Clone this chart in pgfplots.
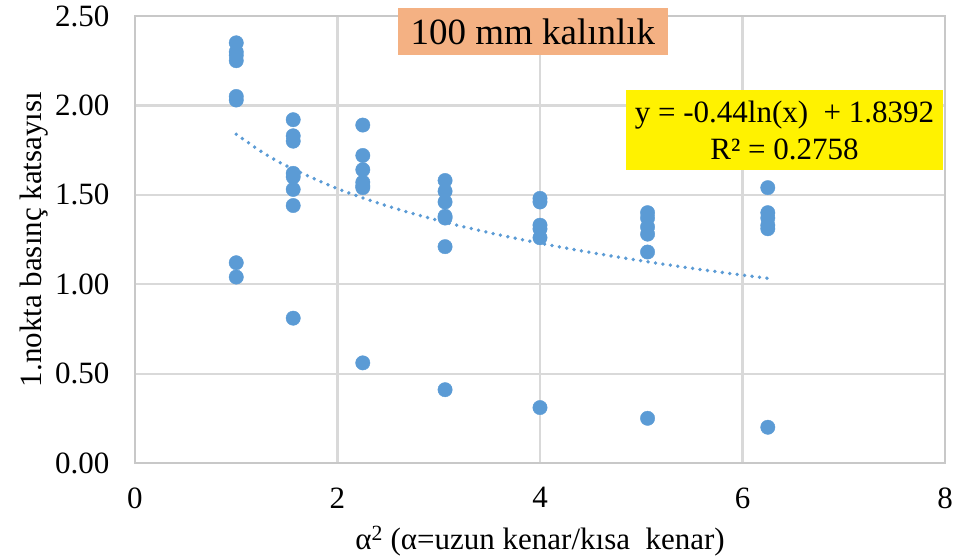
\documentclass[border=0pt]{standalone}
\usepackage{pgfplots}
\pgfplotsset{compat=1.18}
\usepackage{fontspec}
\setmainfont{Liberation Serif}
\definecolor{ptblue}{HTML}{5B9BD5}
\definecolor{gridgray}{HTML}{D9D9D9}
\definecolor{framegray}{HTML}{C8C8C8}
\definecolor{titleorange}{HTML}{F4B183}
\begin{document}
\begin{tikzpicture}
\begin{axis}[
  scale only axis,
  width=810pt, height=447pt,
  xmin=0, xmax=8, ymin=0, ymax=2.5,
  xtick={0,2,4,6,8},
  ytick={0,0.5,1,1.5,2,2.5},
  yticklabel style={xshift=-22pt, /pgf/number format/.cd, fixed, fixed zerofill, precision=2},
  /pgf/number format/assume math mode=true,
  tick label style={font=\fontsize{31}{37}\selectfont},
  major tick length=0pt,
  xticklabel style={yshift=-21pt},
  grid=major,
  major grid style={draw=gridgray, line width=2.2pt},
  axis line style={draw=framegray, line width=2.2pt},
  xlabel={α\textsuperscript{2} (α=uzun kenar/kısa\ \ kenar)},
  ylabel={1.nokta basınç katsayısı},
  label style={font=\fontsize{31}{37}\selectfont},
  xlabel style={yshift=-11pt},
  ylabel style={yshift=0pt},
  clip=false,
]
\addplot[only marks, mark=*, mark size=7.2pt, mark options={draw=ptblue, fill=ptblue}] coordinates {
 (1,2.35) (1,2.30) (1,2.28) (1,2.25) (1,2.05) (1,2.03) (1,1.12) (1,1.04)
 (1.5625,1.92) (1.5625,1.83) (1.5625,1.80) (1.5625,1.62) (1.5625,1.60) (1.5625,1.53) (1.5625,1.44) (1.5625,0.81)
 (2.25,1.89) (2.25,1.72) (2.25,1.64) (2.25,1.57) (2.25,1.55) (2.25,1.54) (2.25,0.56)
 (3.0625,1.58) (3.0625,1.52) (3.0625,1.46) (3.0625,1.38) (3.0625,1.37) (3.0625,1.21) (3.0625,0.41)
 (4,1.48) (4,1.46) (4,1.33) (4,1.31) (4,1.26) (4,0.31)
 (5.0625,1.40) (5.0625,1.37) (5.0625,1.32) (5.0625,1.28) (5.0625,1.18) (5.0625,0.25)
 (6.25,1.54) (6.25,1.40) (6.25,1.37) (6.25,1.33) (6.25,1.31) (6.25,0.20)
};
\addplot[ptblue, line width=3.8pt, line cap=round, dash pattern=on 0pt off 7.5pt, smooth, no markers] coordinates {
 (1,1.8392) (1.25,1.7410) (1.5,1.6608) (2,1.5342) (2.5,1.4360) (3,1.3558) (3.5,1.2880)
 (4,1.2292) (4.5,1.1774) (5,1.1311) (5.5,1.0891) (6,1.0508) (6.25,1.0329)
};
\node[fill=titleorange, minimum width=270pt, minimum height=47pt, inner sep=0pt,
  font=\fontsize{37}{43}\selectfont] at (axis cs:3.93,2.413) {100 mm kalınlık};
\node[fill=yellow, minimum width=317pt, minimum height=80pt, inner sep=0pt, align=center,
  font=\fontsize{31}{37}\selectfont] at (axis cs:6.415,1.862) {y = -0.44ln(x) \ + 1.8392\\R² = 0.2758};
\coordinate (bl) at (rel axis cs:0,0);
\end{axis}
\pgfresetboundingbox
\path (bl) ++(-135pt,-95pt) rectangle ++(959pt,558pt);
\end{tikzpicture}
\end{document}
